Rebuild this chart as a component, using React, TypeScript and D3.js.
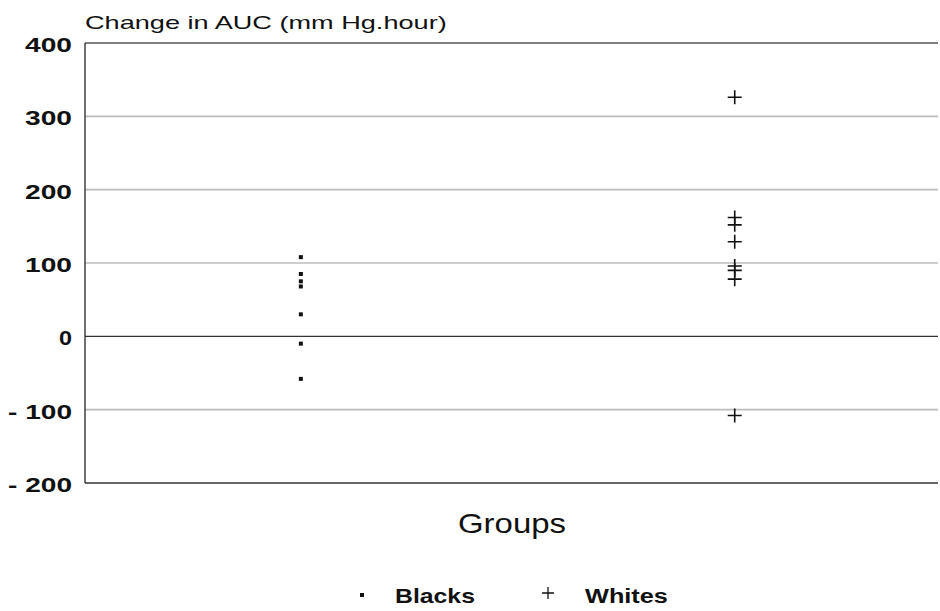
import * as d3 from 'd3'
import { useEffect, useRef } from 'react'

// values
const groups = ['Blacks', 'Whites']
const blacks = [108, 85, 75, 68, 30, -10, -58]
const whites = [326, 162, 152, 129, 96, 90, 78, -108]
const yTicks = [400, 300, 200, 100, 0, -100, -200]

const W = 940
const H = 611
const font = '"Liberation Sans", Arial, sans-serif'

// the scanned lettering is wider than Arial, so stretch each text horizontally to its measured width
function stretched (
    parent: d3.Selection<any, unknown, null, undefined>,
    str: string, x: number, y: number, width: number,
    opts: { size: number, bold?: boolean, anchor?: 'start' | 'end' }
) {
    const t = parent.append('text')
        .attr('font-family', font)
        .attr('font-size', opts.size)
        .attr('font-weight', opts.bold ? 'bold' : 'normal')
        .attr('fill', '#111')
        .attr('text-anchor', opts.anchor || 'start')
        .text(str)
    const len = (t.node() as SVGTextElement).getComputedTextLength() || width
    t.attr('transform', `translate(${x},${y}) scale(${width / len},1)`)
    return t
}

export default function App () {
    const svgRef = useRef<SVGSVGElement>(null)

    useEffect(() => {
        const svg = d3.select(svgRef.current)
        svg.selectAll('*').remove()

        const left = 85
        const right = 938
        const y = d3.scaleLinear().domain([-200, 400]).range([483, 43])
        const x = d3.scalePoint<string>()
            .domain(groups)
            .range([left, right])
            .padding(0.483)
            .align(0.515)

        // gridlines
        svg.append('g')
            .selectAll('line')
            .data(yTicks.filter(d => d !== 400 && d !== -200))
            .join('line')
            .attr('x1', left)
            .attr('x2', right)
            .attr('y1', d => y(d))
            .attr('y2', d => y(d))
            .attr('stroke', d => d === 0 ? '#333' : '#bcbcbc')
            .attr('stroke-width', d => d === 0 ? 1.4 : 1.6)

        // frame: top, bottom, left
        svg.append('line')
            .attr('x1', left).attr('x2', right)
            .attr('y1', y(400)).attr('y2', y(400))
            .attr('stroke', '#555').attr('stroke-width', 1.3)
        svg.append('line')
            .attr('x1', left).attr('x2', right)
            .attr('y1', y(-200)).attr('y2', y(-200))
            .attr('stroke', '#333').attr('stroke-width', 1.4)
        svg.append('line')
            .attr('x1', left).attr('x2', left)
            .attr('y1', y(400)).attr('y2', y(-200))
            .attr('stroke', '#333').attr('stroke-width', 1.4)

        // y tick labels
        const ticksG = svg.append('g')
        yTicks.forEach(d => {
            const w = d === 0 ? 13 : d < 0 ? 64 : 47
            stretched(ticksG, d < 0 ? '- ' + Math.abs(d) : String(d), 72, y(d) + 9, w,
                { size: 21, bold: true, anchor: 'end' })
        })

        stretched(svg, 'Change in AUC (mm Hg.hour)', 85, 29, 362, { size: 19 })

        // blacks: small squares
        svg.append('g')
            .selectAll('rect')
            .data(blacks)
            .join('rect')
            .attr('x', x('Blacks')! - 2)
            .attr('y', d => y(d) - 2)
            .attr('width', 4)
            .attr('height', 4)
            .attr('fill', '#111')

        // whites: plus signs
        const s = 7
        svg.append('g')
            .selectAll('path')
            .data(whites)
            .join('path')
            .attr('d', d => {
                const cx = x('Whites')!
                const cy = y(d)
                return `M${cx - s},${cy}H${cx + s}M${cx},${cy - s}V${cy + s}`
            })
            .attr('stroke', '#111')
            .attr('stroke-width', 1.6)
            .attr('fill', 'none')

        stretched(svg, 'Groups', 458, 533, 108, { size: 27 })

        // legend
        const lg = svg.append('g')
        lg.append('rect').attr('x', 360).attr('y', 593).attr('width', 4).attr('height', 4).attr('fill', '#111')
        stretched(lg, 'Blacks', 395, 603, 80, { size: 20, bold: true })
        lg.append('path')
            .attr('d', 'M542,593H554M548,587V599')
            .attr('stroke', '#111').attr('stroke-width', 1.3)
        stretched(lg, 'Whites', 585, 603, 83, { size: 20, bold: true })
    }, [])

    return (
        <svg ref={svgRef} width={W} height={H}
            style={{ position: 'absolute', left: 0, top: 0, background: '#fff' }} />
    )
}
